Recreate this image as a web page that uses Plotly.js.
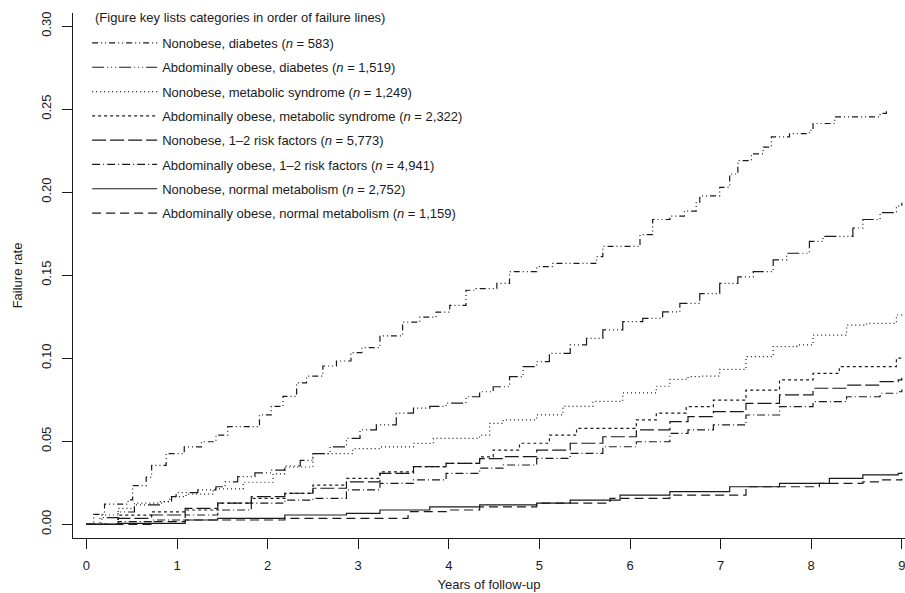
<!DOCTYPE html>
<html>
<head>
<meta charset="utf-8">
<script src="https://cdn.plot.ly/plotly-3.0.1.min.js"></script>
<style>html,body{margin:0;padding:0;background:#fff}#chart{width:905px;height:593px}</style>
</head>
<body>
<div id="chart"></div>
<script>
// Series names (legend order)
const seriesNames = [
  "Nonobese, diabetes (<i>n</i> = 583)",
  "Abdominally obese, diabetes (<i>n</i> = 1,519)",
  "Nonobese, metabolic syndrome (<i>n</i> = 1,249)",
  "Abdominally obese, metabolic syndrome (<i>n</i> = 2,322)",
  "Nonobese, 1–2 risk factors (<i>n</i> = 5,773)",
  "Abdominally obese, 1–2 risk factors (<i>n</i> = 4,941)",
  "Nonobese, normal metabolism (<i>n</i> = 2,752)",
  "Abdominally obese, normal metabolism (<i>n</i> = 1,159)"
];
const legendTitle = "(Figure key lists categories in order of failure lines)";

// Years of follow-up / failure rate
const x1 = [0,0.08,0.2,0.46,0.51,0.66,0.72,0.88,1.08,1.27,1.43,1.56,1.91,2.04,2.17,2.32,2.43,2.61,2.76,2.92,3.04,3.24,3.49,3.68,3.86,4.01,4.19,4.30,4.53,4.67,4.97,5.15,5.63,5.70,6.11,6.25,6.44,6.60,6.73,6.77,6.99,7.10,7.19,7.34,7.47,7.56,7.76,7.98,8.02,8.26,8.76,8.83];
const y1 = [0,0.006,0.0122,0.0147,0.0233,0.0284,0.0355,0.0426,0.0466,0.0497,0.0537,0.0588,0.0659,0.071,0.077,0.0852,0.0892,0.0953,0.0983,0.1034,0.1064,0.1135,0.1217,0.1247,0.1277,0.1318,0.1409,0.1419,0.145,0.1521,0.1551,0.1571,0.1612,0.1673,0.1744,0.1835,0.1855,0.1886,0.1936,0.1977,0.2028,0.2109,0.219,0.223,0.2271,0.2332,0.2352,0.2372,0.2413,0.2453,0.2474,0.2494];

const x2 = [0,0.15,0.35,0.53,0.83,0.94,0.99,1.23,1.43,1.53,1.67,1.86,2.04,2.19,2.36,2.50,2.69,2.87,3.02,3.20,3.42,3.61,3.79,3.97,4.19,4.34,4.49,4.67,4.82,4.97,5.11,5.34,5.52,5.70,5.92,6.14,6.36,6.55,6.77,6.99,7.19,7.36,7.58,7.73,7.98,8.13,8.46,8.57,8.76,8.94,9.0];
const y2 = [0,0.004,0.0074,0.0117,0.0136,0.0166,0.0191,0.0207,0.0226,0.0256,0.0287,0.031,0.0326,0.0351,0.0385,0.0426,0.0466,0.0517,0.0568,0.0598,0.0669,0.07,0.071,0.073,0.0768,0.0798,0.0828,0.0889,0.0949,0.0979,0.1029,0.108,0.1119,0.117,0.122,0.124,0.1279,0.133,0.1389,0.145,0.149,0.1521,0.1592,0.1632,0.1703,0.1734,0.1784,0.1835,0.1876,0.1916,0.1936];

const x3 = [0,0.17,0.35,0.53,0.81,0.92,1.10,1.40,1.73,2.06,2.19,2.50,2.94,3.24,3.61,3.83,4.34,4.45,4.60,4.97,5.26,5.59,5.92,6.29,6.44,6.64,6.77,6.99,7.28,7.58,7.84,8.02,8.39,8.61,8.94,9.0];
const y3 = [0,0.0056,0.0096,0.0127,0.0136,0.0166,0.0182,0.0213,0.0253,0.0304,0.0345,0.0426,0.0456,0.0466,0.0487,0.0517,0.0537,0.0608,0.0629,0.0659,0.071,0.074,0.0791,0.0831,0.0872,0.0889,0.0892,0.0933,0.1009,0.107,0.108,0.1139,0.1199,0.121,0.126,0.1277];

const x4 = [0,0.35,0.72,1.09,1.45,1.82,2.19,2.50,2.87,3.24,3.61,3.97,4.34,4.49,4.78,5.11,5.41,5.78,6.07,6.29,6.62,6.92,7.28,7.65,8.02,8.31,8.68,8.94,9.0];
const y4 = [0,0.0055,0.0075,0.0086,0.0127,0.0156,0.0186,0.0236,0.0277,0.0316,0.0347,0.0367,0.0406,0.0447,0.0488,0.0537,0.0578,0.0578,0.0629,0.0669,0.0708,0.0748,0.0808,0.0869,0.0909,0.0949,0.0949,0.1,0.1014];

const x5 = [0,0.35,0.72,1.09,1.45,1.82,2.19,2.50,2.87,3.24,3.61,3.97,4.34,4.60,4.97,5.34,5.70,6.07,6.44,6.64,6.92,7.28,7.65,8.02,8.39,8.76,8.96,9.0];
const y5 = [0,0.0036,0.0056,0.0096,0.0127,0.0166,0.0187,0.0217,0.0256,0.0307,0.0347,0.0367,0.0395,0.0407,0.0447,0.0488,0.0527,0.0568,0.0618,0.0648,0.0678,0.0728,0.0779,0.0819,0.0838,0.0859,0.0869,0.0882];

const x6 = [0,0.35,0.72,1.09,1.45,1.82,2.19,2.50,2.87,3.24,3.61,3.97,4.34,4.60,4.97,5.34,5.70,6.07,6.44,6.64,6.92,7.28,7.65,8.02,8.39,8.76,8.96,9.0];
const y6 = [0,0.0016,0.0026,0.0056,0.0086,0.0127,0.0146,0.0156,0.0207,0.0246,0.0267,0.0307,0.0338,0.0357,0.0397,0.0427,0.0467,0.0497,0.0547,0.0568,0.0598,0.0658,0.0708,0.0738,0.0768,0.0789,0.0798,0.0811];

const x7 = [0,0.35,1.09,1.45,2.19,2.87,3.24,3.79,4.34,4.97,5.34,5.89,6.44,7.10,7.65,8.20,8.57,8.96,9.0];
const y7 = [0,0.0006,0.0026,0.0036,0.0056,0.0066,0.0086,0.0105,0.0117,0.0127,0.0146,0.0176,0.0197,0.0226,0.0246,0.0277,0.0297,0.0307,0.0314];

const x8 = [0,0.72,1.09,2.19,3.55,3.97,4.34,4.97,5.78,6.44,7.28,8.09,8.57,8.76,9.0];
const y8 = [0,0.0016,0.0026,0.0036,0.0076,0.0086,0.0105,0.0127,0.0156,0.0176,0.0226,0.0246,0.0256,0.0267,0.0274];

const xTicks = [0,1,2,3,4,5,6,7,8,9];
const yTicks = [0,0.05,0.10,0.15,0.20,0.25,0.30];
const yTickText = ["0.00","0.05","0.10","0.15","0.20","0.25","0.30"];

const xs = [x1,x2,x3,x4,x5,x6,x7,x8];
const ys = [y1,y2,y3,y4,y5,y6,y7,y8];
const dashes = [
  "6px,3px,1px,3px,1px,3px",
  "12px,3px,1px,3px,1px,3px,1px,3px",
  "1px,3px",
  "3px,3px",
  "14px,4px",
  "8px,3px,1px,3px",
  "solid",
  "9px,5px"
];

const ink = "#1a1a1a";
const traces = seriesNames.map((name, i) => ({
  type: "scatter",
  mode: "lines",
  x: xs[i],
  y: ys[i],
  name: name,
  legendgroup: "g" + i,
  line: {shape: "hv", color: ink, width: 1.2, dash: dashes[i]},
  hoverinfo: "skip"
}));

const font = {family: "Liberation Sans, Arial, Helvetica, sans-serif", size: 13, color: ink};

const layout = {
  width: 905, height: 593,
  margin: {l: 73, r: 0, t: 13, b: 55, pad: 0},
  paper_bgcolor: "#fff", plot_bgcolor: "#fff",
  font: font,
  showlegend: true,
  legend: {
    x: 0.017, y: 0.9714, xanchor: "left", yanchor: "top",
    bgcolor: "rgba(0,0,0,0)", borderwidth: 0,
    itemwidth: 65, tracegroupgap: 4.4,
    font: font
  },
  annotations: [{
    text: legendTitle, xref: "paper", yref: "paper",
    x: 0.024, y: 0.9905, xanchor: "left", yanchor: "middle",
    showarrow: false, font: font
  }],
  xaxis: {
    range: [-0.148, 9.035], tickvals: xTicks, ticktext: xTicks.map(String),
    showgrid: false, zeroline: false,
    showline: true, linecolor: ink, linewidth: 1, mirror: false,
    ticks: "outside", ticklen: 10, tickwidth: 1, tickcolor: ink,
    ticklabelstandoff: 5, ticklabeloverflow: "allow",
    tickfont: font,
    title: {text: "Years of follow-up", font: font, standoff: 8}
  },
  yaxis: {
    range: [-0.00825, 0.30783], tickvals: yTicks, ticktext: yTickText,
    tickangle: -90,
    showgrid: false, zeroline: false,
    showline: true, linecolor: ink, linewidth: 1, mirror: false,
    ticks: "outside", ticklen: 10, tickwidth: 1, tickcolor: ink,
    ticklabelstandoff: 6, ticklabeloverflow: "allow",
    tickfont: font,
    title: {text: "Failure rate", font: font, standoff: 13}
  }
};

Plotly.newPlot("chart", traces, layout, {staticPlot: true, displayModeBar: false});
</script>
</body>
</html>
